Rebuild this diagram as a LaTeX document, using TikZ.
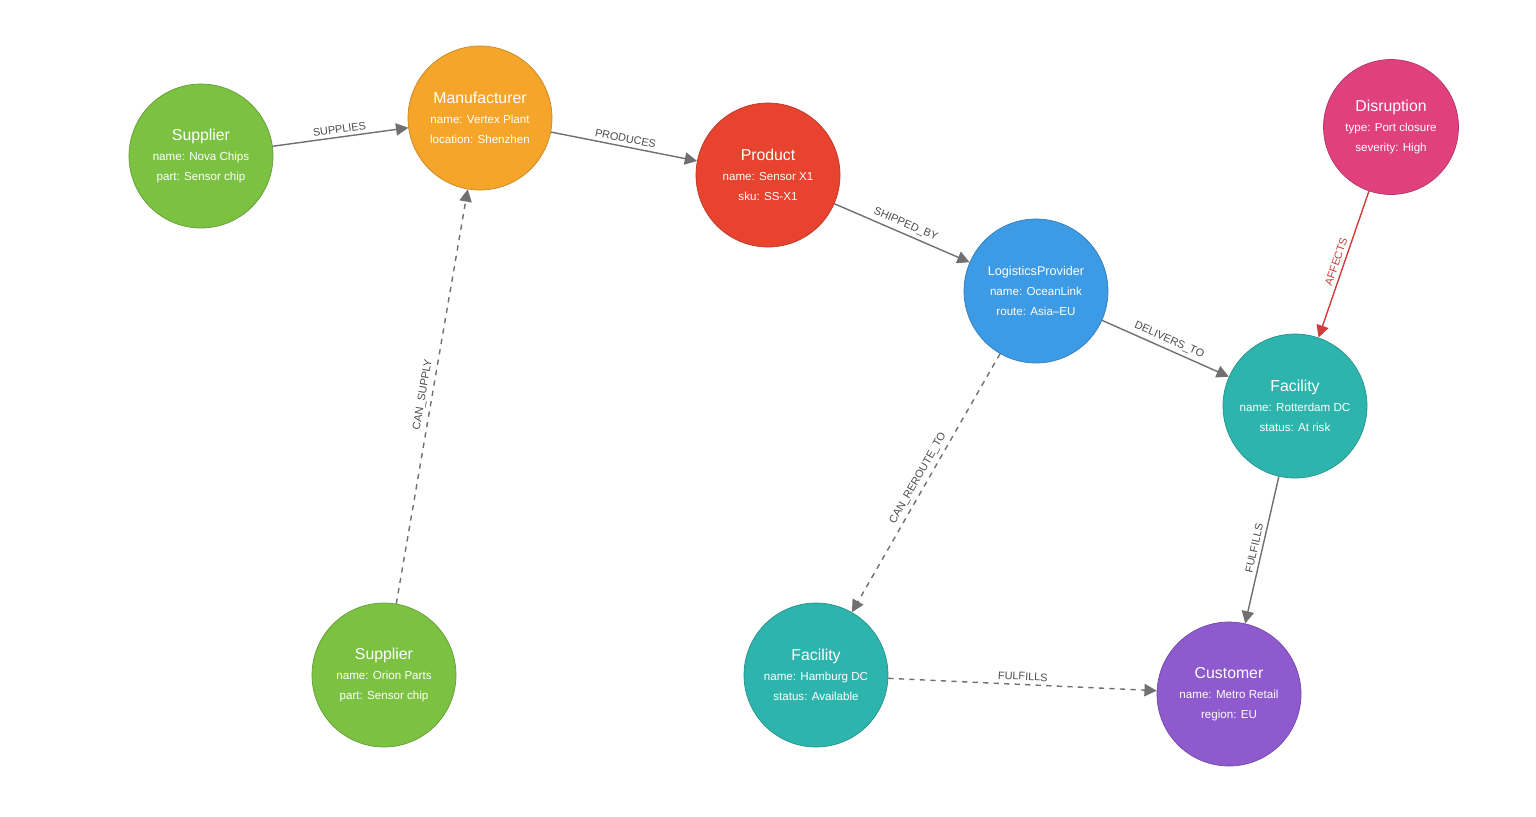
\documentclass[tikz,border=0pt]{standalone}
\usepackage{fontspec}
\setmainfont{Liberation Sans}
\usetikzlibrary{arrows.meta}

\definecolor{cgreen}{HTML}{7CC242}
\definecolor{corange}{HTML}{F5A62A}
\definecolor{cred}{HTML}{E8432F}
\definecolor{cblue}{HTML}{3D9BE6}
\definecolor{cpink}{HTML}{E0417E}
\definecolor{cteal}{HTML}{2DB5AD}
\definecolor{cpurple}{HTML}{8E5ACD}
\definecolor{cedge}{HTML}{707070}
\definecolor{caff}{HTML}{D23C3C}

\begin{document}
\begin{tikzpicture}[%
    x=0.02cm, y=-0.02cm,
    >={Triangle[length=7pt,width=7pt]},
    ]
% -------------------------------------------------
% Styles for entities and relations
\tikzset{
  ent/.style={circle, draw=#1!80!black, fill=#1, text=white, minimum size=2.88cm,
    inner sep=0pt, align=center, font=\fontsize{6.6}{11.4}\selectfont},
  rel/.style={->, draw=cedge, line width=0.8pt},
  maybe/.style={rel, dashed},
  lab/.style={midway, sloped, above, font=\fontsize{6.2}{7}\selectfont, text=black!70, inner sep=2pt},
}
\useasboundingbox (0,0) rectangle (1536,816);
% -------------------------------------------------
% Nodes
\node [ent=cgreen] (sup1) at (201,156) {{\fontsize{9}{10}\selectfont Supplier}\\name: Nova Chips\\part: Sensor chip};
\node [ent=corange] (man) at (480,118) {{\fontsize{9}{10}\selectfont Manufacturer}\\name: Vertex Plant\\location: Shenzhen};
\node [ent=cred] (prod) at (768,175) {{\fontsize{9}{10}\selectfont Product}\\name: Sensor X1\\sku: SS-X1};
\node [ent=cblue] (log) at (1036,291) {{\fontsize{7.2}{10}\selectfont LogisticsProvider}\\name: OceanLink\\route: Asia--EU};
\node [ent=cpink, minimum size=2.7cm] (dis) at (1391,127) {{\fontsize{9}{10}\selectfont Disruption}\\type: Port closure\\severity: High};
\node [ent=cteal] (facr) at (1295,406) {{\fontsize{9}{10}\selectfont Facility}\\name: Rotterdam DC\\status: At risk};
\node [ent=cgreen] (sup2) at (384,675) {{\fontsize{9}{10}\selectfont Supplier}\\name: Orion Parts\\part: Sensor chip};
\node [ent=cteal] (fach) at (816,675) {{\fontsize{9}{10}\selectfont Facility}\\name: Hamburg DC\\status: Available};
\node [ent=cpurple] (cust) at (1229,694) {{\fontsize{9}{10}\selectfont Customer}\\name: Metro Retail\\region: EU};

% -------------------------------------------------
% Relations
\draw [rel] (sup1) -- node [lab] {SUPPLIES} (man);
\draw [rel] (man) -- node [lab] {PRODUCES} (prod);
\draw [rel] (prod) -- node [lab] {SHIPPED\_BY} (log);
\draw [rel] (log) -- node [lab] {DELIVERS\_TO} (facr);
\draw [rel, draw=caff] (dis) -- node [lab, text=caff] {AFFECTS} (facr);
\draw [rel] (facr) -- node [lab] {FULFILLS} (cust);
\draw [maybe] (sup2) -- node [lab] {CAN\_SUPPLY} (man);
\draw [maybe] (log) -- node [lab] {CAN\_REROUTE\_TO} (fach);
\draw [maybe] (fach) -- node [lab] {FULFILLS} (cust);
% -------------------------------------------------
\end{tikzpicture}
\end{document}
